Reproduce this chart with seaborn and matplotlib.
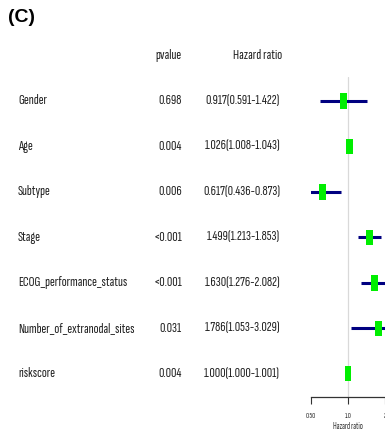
import matplotlib
matplotlib.use("Agg")
import matplotlib.pyplot as plt
import matplotlib.transforms as mtransforms
import numpy as np
import pandas as pd
import seaborn as sns

# Multivariate Cox regression results
variables = ["Gender", "Age", "Subtype", "Stage", "ECOG_performance_status",
             "Number_of_extranodal_sites", "riskscore"]
pvalues = ["0.698", "0.004", "0.006", "<0.001", "<0.001", "0.031", "0.004"]
hr = [0.917, 1.026, 0.617, 1.499, 1.630, 1.786, 1.000]
hr_low = [0.591, 1.008, 0.436, 1.213, 1.276, 1.053, 1.000]
hr_high = [1.422, 1.043, 0.873, 1.853, 2.082, 3.029, 1.001]
tick_values = [0.5, 1.0, 2.0]
tick_labels = ["0.50", "1.0", "2"]

df = pd.DataFrame({"variable": variables, "pvalue": pvalues,
                   "hr": hr, "low": hr_low, "high": hr_high})
df["row"] = np.arange(len(df))
df["label"] = [f"{h:.3f}({l:.3f}-{u:.3f})" for h, l, u in zip(hr, hr_low, hr_high)]

sns.set_theme(style="white")
narrow = ["Sofia Sans Extra Condensed", "Roboto Condensed", "DejaVu Sans"]
plt.rcParams["font.family"] = narrow

W, H = 385, 447
fig = plt.figure(figsize=(W / 100, H / 100), dpi=100)
fig.patch.set_facecolor("white")

# table font size: the longest variable name spans about 110 px
renderer = fig.canvas.get_renderer()
probe = fig.text(0, 0, "ECOG_performance_status", fontsize=10)
fs = 10 * 110 / probe.get_window_extent(renderer).width
probe.remove()

# forest panel on a log axis from 0.50 to 2
ax = fig.add_axes([311 / W, 50.3 / H, 74 / W, 319.7 / H])
ax.set_xscale("log")
ax.set_xlim(0.5, 2.0)
ax.set_ylim(6.5, -0.527)

ax.axvline(1.0, color="#d9d9d9", lw=0.9, zorder=0)
ax.hlines(df["row"], df["low"], df["high"], color="#000080", lw=2.2, zorder=2)

box = [(-0.23, -0.5), (0.23, -0.5), (0.23, 0.5), (-0.23, 0.5)]
sns.scatterplot(data=df, x="hr", y="row", ax=ax, marker=box, s=118,
                color="#00ee00", edgecolor="none", linewidth=0, zorder=3,
                legend=False)

for side in ["top", "right", "left"]:
    ax.spines[side].set_visible(False)
ax.spines["bottom"].set_color("#333333")
ax.spines["bottom"].set_linewidth(0.9)
ax.set_yticks([])
ax.set_ylabel("")
ax.set_xticks(tick_values)
ax.set_xticklabels(tick_labels)
ax.xaxis.set_minor_locator(matplotlib.ticker.NullLocator())
ax.tick_params(axis="x", bottom=True, length=5, width=0.8, color="#333333",
               labelsize=6, labelcolor="#333333", pad=6)
ax.set_xlabel("Hazard ratio", fontsize=6.5, color="#333333", labelpad=1.5)
ax.set_facecolor("white")

# table columns placed on the same rows as the forest panel
tr = mtransforms.blended_transform_factory(fig.transFigure, ax.transData)
txt_color = "#222222"
ax.text(182 / W, -0.99, "pvalue", transform=tr, ha="right", va="center",
        fontsize=fs, color=txt_color, clip_on=False)
ax.text(282 / W, -0.99, "Hazard ratio", transform=tr, ha="right", va="center",
        fontsize=fs, color=txt_color, clip_on=False)
for _, r in df.iterrows():
    ax.text(18 / W, r["row"], r["variable"], transform=tr, ha="left",
            va="center", fontsize=fs, color=txt_color, clip_on=False)
    ax.text(182 / W, r["row"], r["pvalue"], transform=tr, ha="right",
            va="center", fontsize=fs, color=txt_color, clip_on=False)
    ax.text(280 / W, r["row"], r["label"], transform=tr, ha="right",
            va="center", fontsize=fs, color=txt_color, clip_on=False)

fig.text(8 / W, 1 - 18 / H, "(C)", ha="left", va="center", fontsize=14,
         fontweight="bold", color="black",
         family=["Liberation Sans", "DejaVu Sans"])

fig.savefig("out.png", dpi=100)
